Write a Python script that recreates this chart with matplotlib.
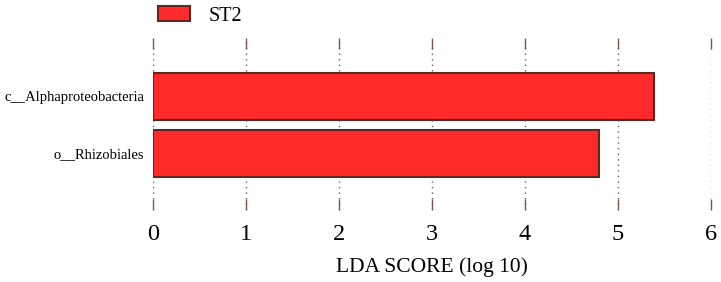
import matplotlib
matplotlib.use("Agg")
import matplotlib.pyplot as plt
from matplotlib.patches import Patch

# Data
taxa = ["o__Rhizobiales", "c__Alphaproteobacteria"]
lda_scores = [4.80, 5.39]
group = "ST2"
xticks = [0, 1, 2, 3, 4, 5, 6]

bar_color = "#FF2A2A"
edge_color = "#5A2A22"
grid_color = "#7A5A50"

plt.rcParams['font.family'] = ['Liberation Serif', 'DejaVu Serif']

W, H = 721, 282
fig = plt.figure(figsize=(W / 100, H / 100), dpi=100)
ax = fig.add_axes([153 / W, 1 - 210 / H, (711 - 153) / W, (210 - 38) / H])

ypos = list(range(len(taxa)))
ax.barh(ypos, lda_scores, height=0.82, color=bar_color, edgecolor=edge_color,
        linewidth=1.5, zorder=3)

ax.set_xlim(0, 6)
ax.set_ylim(-0.991, 2.026)
ax.set_xticks(xticks)
ax.set_xticklabels([str(t) for t in xticks], fontsize=17.5)
ax.set_yticks(ypos)
ax.set_yticklabels(taxa, fontsize=10.5)

for s in ax.spines.values():
    s.set_visible(False)

ax.grid(axis='x', linestyle=(0, (1, 3)), color=grid_color, linewidth=1.0, zorder=0)
ax.tick_params(axis='x', which='both', direction='in', length=8, width=1.0,
               color=grid_color, top=True, bottom=True, pad=10)
ax.tick_params(axis='y', length=0, pad=6.5)

ax.set_xlabel("LDA SCORE (log 10)", fontsize=15.5, labelpad=9)

fig.legend(handles=[Patch(facecolor=bar_color, edgecolor=edge_color, linewidth=1.5, label=group)],
           loc='center left', bbox_to_anchor=(158 / W, 1 - 16 / H), frameon=False,
           fontsize=14.5, handlelength=1.6, handleheight=0.75, handletextpad=0.9,
           borderpad=0, borderaxespad=0)

fig.savefig("out.png", dpi=100)
